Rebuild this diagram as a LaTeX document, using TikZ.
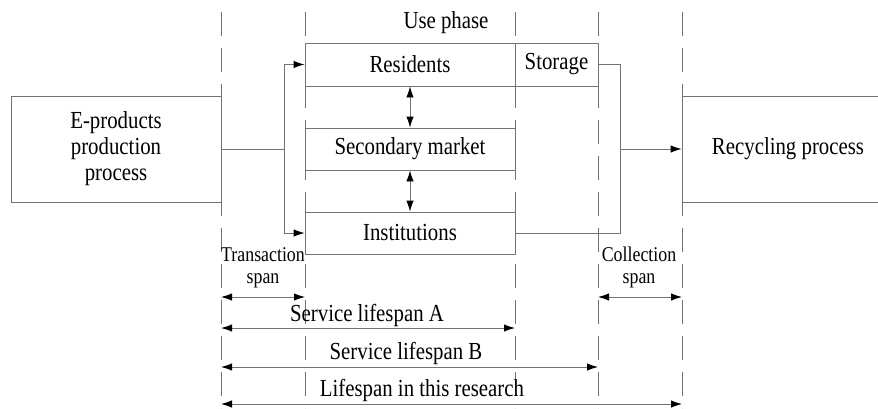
\documentclass[tikz,border=0pt]{standalone}
\usepackage{fontspec}
\setmainfont{Liberation Serif}[FakeStretch=0.85]
\usetikzlibrary{arrows.meta}

\tikzset{
  line/.style={draw=black!55, line width=0.9pt},
  stage/.style={line, rectangle, inner sep=0pt, minimum height=42pt, font=\fontsize{24.5}{26}\selectfont},
  phase/.style={line, dash pattern=on 24pt off 12pt},
  flow/.style={line, -{Latex[length=11pt,width=7.5pt,black]}},
  span/.style={line, {Latex[length=11pt,width=7.5pt,black]}-{Latex[length=11pt,width=7.5pt,black]}},
  lbl/.style={font=\fontsize{24.5}{26}\selectfont, inner sep=0pt},
  small/.style={font=\fontsize{21}{22}\selectfont, align=center, inner sep=0pt}
}

\begin{document}
\begin{tikzpicture}[x=1pt,y=-1pt]
    \useasboundingbox (0,0) rectangle (878,408);
    % time marks
    \foreach \x in {221,305,515,598,682}
      \draw[phase] (\x,12) -- (\x,408);

    % use phase
    \node[lbl] (use) at (446,23) {Use phase};
    \node[stage, minimum width=210pt, minimum height=43pt] (res) at (410,64.5) {Residents};
    \node[stage, minimum width=83pt, minimum height=43pt] (stor) at (556.5,64.5) {Storage};
    \node[stage, minimum width=210pt] (sec) at (410,149) {Secondary market};
    \node[stage, minimum width=210pt] (inst) at (410,233) {Institutions};

    % outer processes
    \node[stage, minimum width=210pt, minimum height=106pt, align=center] (prod) at (116,149) {E-products\\production\\process};
    \node[stage, minimum width=212pt, minimum height=106pt] (rec) at (788,149) {Recycling process};

    % flows
    \coordinate (split) at (284,149);
    \coordinate (merge) at (620,149);
    \draw[line] (prod.east) -- (split);
    \draw[flow] (split) |- (res.west);
    \draw[flow] (split) |- (inst.west);
    \draw[line] (stor.east) -| (merge);
    \draw[line] (inst.east) -| (merge);
    \draw[flow] (merge) -- (rec.west);
    \draw[span] (res.south) -- (sec.north);
    \draw[span] (sec.south) -- (inst.north);

    % spans
    \node[small] (trans) at (263,268) {Transaction\\span};
    \node[small] (coll) at (639,267) {Collection\\span};
    \coordinate (t0) at (221,297);
    \coordinate (t1) at (305,297);
    \coordinate (c0) at (598,297);
    \coordinate (c1) at (682,297);
    \draw[span] (t0) -- (t1);
    \draw[span] (c0) -- (c1);

    \node[lbl] (lifeA) at (367,315) {Service lifespan A};
    \coordinate (a0) at (221,328);
    \coordinate (a1) at (515,328);
    \draw[span] (a0) -- (a1);

    \node[lbl] (lifeB) at (406,353) {Service lifespan B};
    \coordinate (b0) at (221,367);
    \coordinate (b1) at (598,367);
    \draw[span] (b0) -- (b1);

    \node[lbl] (life) at (422,390) {Lifespan in this research};
    \coordinate (l0) at (221,404);
    \coordinate (l1) at (682,404);
    \draw[span] (l0) -- (l1);
\end{tikzpicture}
\end{document}
